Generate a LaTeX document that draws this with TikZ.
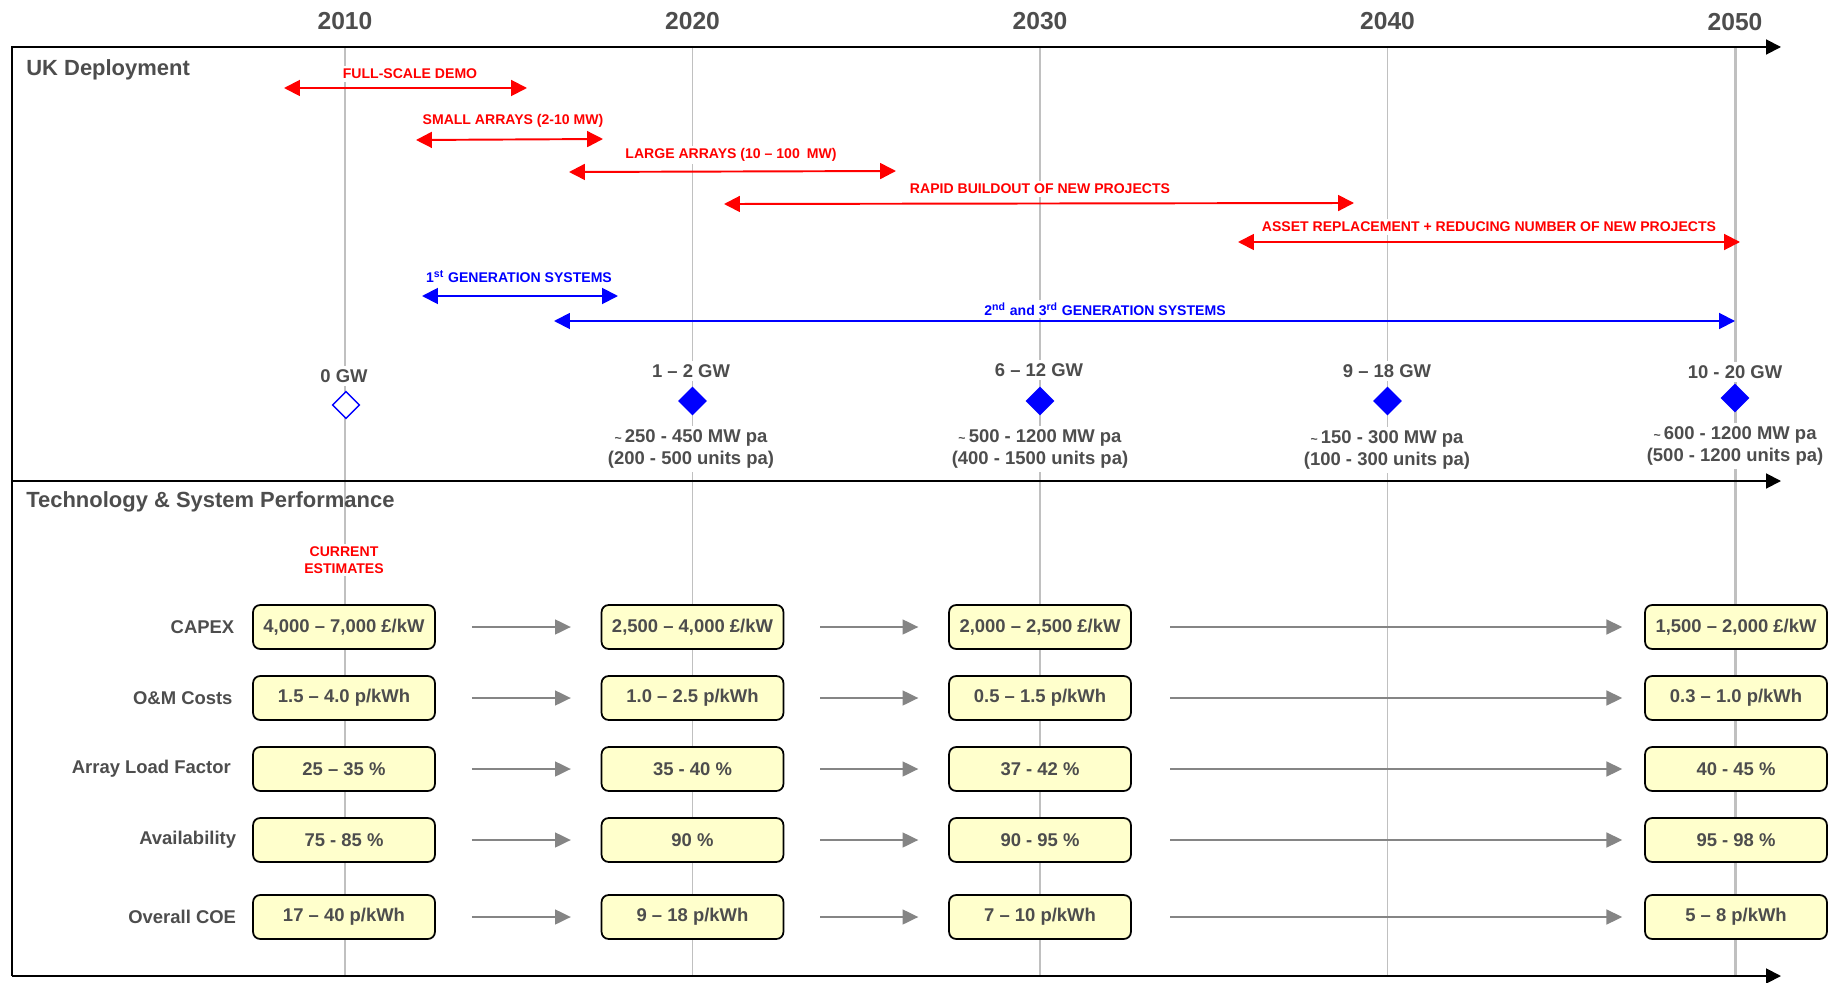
\documentclass[tikz,border=0pt]{standalone}
\usepackage{fontspec}
\setmainfont{Liberation Sans}
\usepackage{tikz}
\usetikzlibrary{arrows.meta, positioning, shapes.geometric}

\definecolor{txtgrey}{HTML}{4D4D4D}
\definecolor{gridgrey}{HTML}{C0C0C0}
\definecolor{arrgrey}{HTML}{858585}
\definecolor{boxyellow}{HTML}{FFFFCC}

\tikzstyle{yearlbl} = [font=\fontsize{14}{16}\selectfont\bfseries, text=txtgrey]
\tikzstyle{sectitle} = [font=\fontsize{12.5}{15}\selectfont\bfseries, text=txtgrey, anchor=west, inner sep=0pt]
\tikzstyle{redlbl} = [font=\fontsize{8}{9.3}\selectfont\bfseries, text=red, fill=white, inner sep=1.5pt, align=center]
\tikzstyle{bluelbl} = [font=\fontsize{8}{9.3}\selectfont\bfseries, text=blue, fill=white, inner sep=1.5pt]
\tikzstyle{redspan} = [red, line width=1.1pt, {Triangle[length=9pt,width=9pt]}-{Triangle[length=9pt,width=9pt]}]
\tikzstyle{bluespan} = [blue, line width=1.1pt, {Triangle[length=9pt,width=9pt]}-{Triangle[length=9pt,width=9pt]}]
\tikzstyle{gwlbl} = [font=\fontsize{10.5}{12.5}\selectfont\bfseries, text=txtgrey, fill=white, inner sep=2pt, align=center]
\tikzstyle{milestone} = [diamond, fill=blue, minimum width=16.5pt, minimum height=16.5pt, inner sep=0pt]
\tikzstyle{milestonezero} = [diamond, draw=blue, fill=white, line width=0.8pt, minimum width=15.5pt, minimum height=15.5pt, inner sep=0pt]
\tikzstyle{perfbox} = [rectangle, rounded corners=4pt, draw=black, line width=1pt, fill=boxyellow,
minimum width=103.5pt, minimum height=25pt, font=\fontsize{10.5}{12.5}\selectfont\bfseries, text=txtgrey]
\tikzstyle{rowlbl} = [font=\fontsize{10.5}{12.5}\selectfont\bfseries, text=txtgrey, inner sep=0pt]
\tikzstyle{greyarrow} = [arrgrey, line width=1pt, -{Triangle[length=9pt,width=8.5pt]}, shorten <=20.5pt, shorten >=17pt]
\tikzstyle{axisarrow} = [black, line width=1.1pt, -{Triangle[length=8.5pt,width=8.5pt]}]
\tikzstyle{gridline} = [gridgrey, line width=0.85pt]

\begin{document}
\begin{tikzpicture}[x=0.02cm, y=-0.02cm]
    \useasboundingbox (0,0) rectangle (1832,983);

    % Years and grid lines
    \foreach \yr/\xx in {2010/345, 2020/692.5, 2030/1040, 2040/1387.5} {
        \node (y\yr) [yearlbl] at (\xx,21) {\yr};
        \coordinate (g\yr-t) at (\xx,47);
        \coordinate (g\yr-b) at (\xx,976);
        \draw [gridline] (g\yr-t) -- (g\yr-b);
    }
    \node (y2050) [yearlbl] at (1735,22) {2050};
    \coordinate (g2050-t) at (1735,47);
    \coordinate (g2050-b) at (1735,976);
    \draw [gridline, line width=1.7pt] (g2050-t) -- (g2050-b);

    % Frame
    \coordinate (tl) at (12,47);
    \coordinate (ml) at (12,481);
    \coordinate (bl) at (12,976);
    \coordinate (tr) at (1781,47);
    \coordinate (mr) at (1781,481);
    \coordinate (br) at (1781,976);
    \draw [axisarrow] (bl) -- (tl) -- (tr);
    \draw [axisarrow] (ml) -- (mr);
    \draw [axisarrow] (bl) -- (br);

    \node (ukdep) [sectitle] at (26,70) {UK Deployment};
    \node (techperf) [sectitle] at (26,502) {Technology \& System Performance};

    % Deployment phases
    \coordinate (fsd-l) at (284,88);
    \coordinate (fsd-r) at (527,88);
    \draw [redspan] (fsd-l) -- (fsd-r);
    \node (fsd) [redlbl] at (410,74) {FULL-SCALE DEMO};

    \coordinate (sma-l) at (416,140);
    \coordinate (sma-r) at (603,139);
    \draw [redspan] (sma-l) -- (sma-r);
    \node (sma) [redlbl] at (513,121) {SMALL ARRAYS (2-10 MW)};

    \coordinate (lga-l) at (569,172);
    \coordinate (lga-r) at (896,171);
    \draw [redspan] (lga-l) -- (lga-r);
    \node (lga) [redlbl] at (731,155) {LARGE ARRAYS (10 – 100\enspace MW)};

    \coordinate (rbo-l) at (724,204);
    \coordinate (rbo-r) at (1354,203);
    \draw [redspan] (rbo-l) -- (rbo-r);
    \node (rbo) [redlbl] at (1040,189) {RAPID BUILDOUT OF NEW PROJECTS};

    \coordinate (arp-l) at (1238,242);
    \coordinate (arp-r) at (1740,242);
    \draw [redspan] (arp-l) -- (arp-r);
    \node (arp) [redlbl] at (1489,227) {ASSET REPLACEMENT + REDUCING NUMBER OF NEW PROJECTS};

    % Generations
    \coordinate (gen1-l) at (422,296);
    \coordinate (gen1-r) at (618,296);
    \draw [bluespan] (gen1-l) -- (gen1-r);
    \node (gen1) [bluelbl] at (519,277) {1\textsuperscript{st} GENERATION SYSTEMS};

    \coordinate (gen23-l) at (554,321);
    \coordinate (gen23-r) at (1735,321);
    \draw [bluespan] (gen23-l) -- (gen23-r);
    \node (gen23) [bluelbl] at (1105,309) {2\textsuperscript{nd} and 3\textsuperscript{rd} GENERATION SYSTEMS};

    % Installed capacity
    \node (ms0) [milestonezero] at (346,405) {};
    \node (gw0) [gwlbl] at (344,376) {0 GW};

    \node (ms1) [milestone] at (692.5,401) {};
    \node (gw1) [gwlbl] at (691,371) {1 – 2 GW};
    \node (rate1) [gwlbl] at (691,449) {{\scriptsize\textasciitilde}\,250 - 450 MW pa\\(200 - 500 units pa)};

    \node (ms2) [milestone] at (1040,401) {};
    \node (gw2) [gwlbl] at (1039,370) {6 – 12 GW};
    \node (rate2) [gwlbl] at (1040,449) {{\scriptsize\textasciitilde}\,500 - 1200 MW pa\\(400 - 1500 units pa)};

    \node (ms3) [milestone] at (1387.5,401) {};
    \node (gw3) [gwlbl] at (1387,371) {9 – 18 GW};
    \node (rate3) [gwlbl] at (1387,450) {{\scriptsize\textasciitilde}\,150 - 300 MW pa\\(100 - 300 units pa)};

    \node (ms4) [milestone] at (1735,398) {};
    \node (gw4) [gwlbl] at (1735,372) {10 - 20 GW};
    \node (rate4) [gwlbl] at (1735,446) {{\scriptsize\textasciitilde}\,600 - 1200 MW pa\\(500 - 1200 units pa)};

    % Performance
    \node (curest) [redlbl] at (344,560) {CURRENT\\ESTIMATES};

    \node (capex1) [perfbox] at (344,627) {4,000 – 7,000 £/kW};
    \node (capex2) [perfbox] at (692.5,627) {2,500 – 4,000 £/kW};
    \node (capex3) [perfbox] at (1040,627) {2,000 – 2,500 £/kW};
    \node (capex4) [perfbox] at (1736,627) {1,500 – 2,000 £/kW};
    \node (capexlbl) [rowlbl, left=10pt of capex1] {CAPEX};

    \node (om1) [perfbox] at (344,698) {1.5 – 4.0 p/kWh};
    \node (om2) [perfbox] at (692.5,698) {1.0 – 2.5 p/kWh};
    \node (om3) [perfbox] at (1040,698) {0.5 – 1.5 p/kWh};
    \node (om4) [perfbox] at (1736,698) {0.3 – 1.0 p/kWh};
    \node (omlbl) [rowlbl, left=11pt of om1] {O\&M Costs};

    \node (alf1) [perfbox] at (344,769) {25 – 35 \%};
    \node (alf2) [perfbox] at (692.5,769) {35 - 40 \%};
    \node (alf3) [perfbox] at (1040,769) {37 - 42 \%};
    \node (alf4) [perfbox] at (1736,769) {40 - 45 \%};
    \node (alflbl) [rowlbl, left=12pt of alf1] {Array Load Factor};

    \node (avail1) [perfbox] at (344,840) {75 - 85 \%};
    \node (avail2) [perfbox] at (692.5,840) {90 \%};
    \node (avail3) [perfbox] at (1040,840) {90 - 95 \%};
    \node (avail4) [perfbox] at (1736,840) {95 - 98 \%};
    \node (availlbl) [rowlbl, left=9pt of avail1] {Availability};

    \node (coe1) [perfbox] at (344,917) {17 – 40 p/kWh};
    \node (coe2) [perfbox] at (692.5,917) {9 – 18 p/kWh};
    \node (coe3) [perfbox] at (1040,917) {7 – 10 p/kWh};
    \node (coe4) [perfbox] at (1736,917) {5 – 8 p/kWh};
    \node (coelbl) [rowlbl, left=9pt of coe1] {Overall COE};

    % Arrows between estimates
    \foreach \rw in {capex, om, alf, avail, coe} {
        \draw [greyarrow] (\rw1) -- (\rw2);
        \draw [greyarrow] (\rw2) -- (\rw3);
        \draw [greyarrow, shorten <=22pt, shorten >=12.5pt] (\rw3) -- (\rw4);
    }
\end{tikzpicture}
\end{document}
